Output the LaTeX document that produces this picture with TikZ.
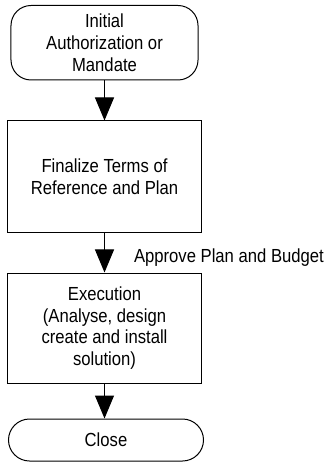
\documentclass[tikz,border=0pt]{standalone}
\usepackage{fontspec}
\setmainfont[FakeStretch=0.88]{Liberation Sans}
\usetikzlibrary{arrows.meta,shapes.misc}
\begin{document}
\begin{tikzpicture}[x=1bp,y=-1bp,
  every node/.style={font=\fontsize{19}{21.7}\selectfont, align=center, inner sep=0pt},
  startbox/.style={draw, line width=1bp, rounded corners=20bp, minimum width=187bp, minimum height=74.5bp},
  procbox/.style={draw, line width=1bp, minimum width=193bp},
  endbox/.style={draw, line width=1bp, rounded rectangle, minimum width=195bp, minimum height=42bp},
  flow/.style={line width=1bp, -{Triangle[width=19bp,length=23bp]}}
]
\useasboundingbox (0,0) rectangle (334,465);
\node[startbox] (init) at (104.5,42.75) {Initial\\Authorization or\\Mandate};
\node[procbox, minimum height=111bp] (plan) at (104.5,176.5) {Finalize Terms of\\Reference and Plan};
\node[procbox, minimum height=110bp] (exec) at (104.5,328) {Execution\\(Analyse, design\\create and install\\solution)};
\node[endbox] (close) at (106,440) {Close};
\draw[flow] (init.south) -- (plan.north);
\draw[flow] (plan.south) -- node[right=29bp, pos=0.64] (lbl) {Approve Plan and Budget} (exec.north);
\draw[flow] (exec.south) -- (exec.south |- close.north);
\end{tikzpicture}
\end{document}
